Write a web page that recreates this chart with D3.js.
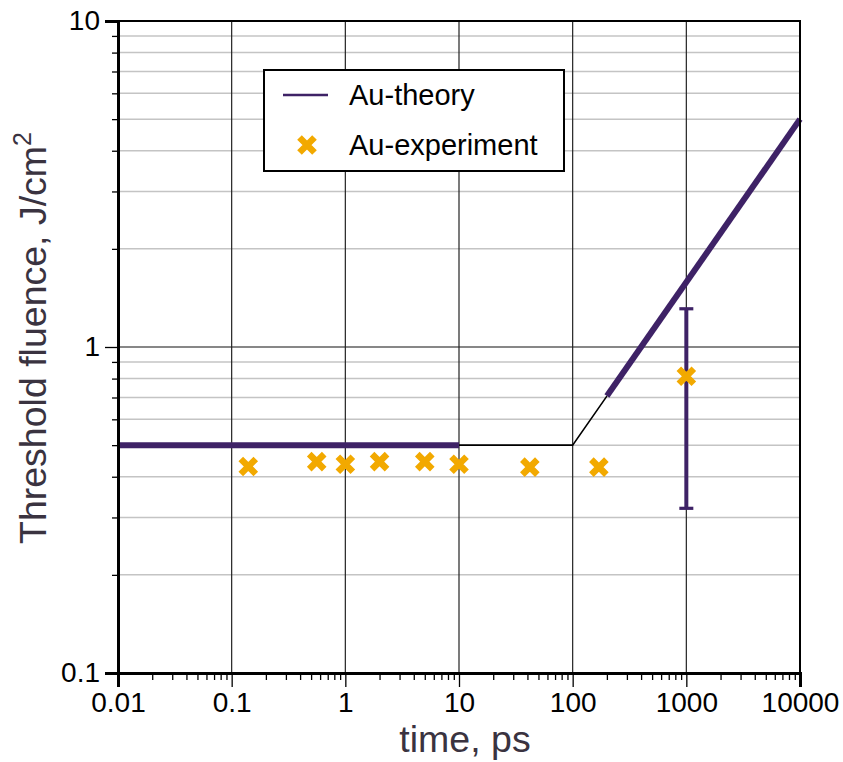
<!DOCTYPE html>
<html>
<head>
<meta charset="utf-8">
<script src="https://cdn.jsdelivr.net/npm/d3@7"></script>
<style>
  html, body { margin: 0; padding: 0; background: #fff; }
  svg { display: block; font-family: "Liberation Sans", Arial, sans-serif; }
</style>
</head>
<body>
<svg id="chart" width="843" height="762"></svg>
<script>
// Threshold fluence of gold vs. pulse duration
const theoryTime    = [0.01, 10, 100, 200, 10000];
const theoryFluence = [0.5, 0.5, 0.5, 0.707, 5];

const expTime    = [0.14, 0.56, 1, 2, 5, 10, 42, 170, 1000];
const expFluence = [0.43, 0.445, 0.437, 0.445, 0.445, 0.437, 0.428, 0.428, 0.813];

const errTime = [1000];
const errLow  = [0.32];
const errHigh = [1.31];

const xTickValues = [0.01, 0.1, 1, 10, 100, 1000, 10000];
const xTickLabels = ["0.01", "0.1", "1", "10", "100", "1000", "10000"];
const yTickValues = [0.1, 1, 10];
const yTickLabels = ["0.1", "1", "10"];

const seriesNames = ["Au-theory", "Au-experiment"];
const xTitle = "time, ps";
const yTitle = "Threshold fluence, J/cm";

const purple = "#3e2266";
const orange = "#f2a900";
const titleColor = "#3a3340";

const svg = d3.select("#chart");
const plotL = 118, plotR = 800, plotT = 21, plotB = 673;

const x = d3.scaleLog().domain([0.01, 10000]).range([plotL, plotR]);
const y = d3.scaleLog().domain([0.1, 10]).range([plotB, plotT]);

// minor tick positions (2..9 within each decade)
function minors(lo, hi) {
  const out = [];
  for (let d = lo; d < hi; d *= 10)
    for (let k = 2; k <= 9; k++) out.push(+(d * k).toPrecision(3));
  return out;
}
const xMinor = minors(0.01, 10000);
const yMinor = minors(0.1, 10);

// grid
const grid = svg.append("g");
grid.selectAll("line.hmin").data(yMinor).join("line")
  .attr("x1", plotL).attr("x2", plotR)
  .attr("y1", d => y(d)).attr("y2", d => y(d))
  .attr("stroke", "#c4c4c4").attr("stroke-width", 1.5);
grid.selectAll("line.hmaj").data([1]).join("line")
  .attr("x1", plotL).attr("x2", plotR)
  .attr("y1", d => y(d)).attr("y2", d => y(d))
  .attr("stroke", "#111").attr("stroke-width", 1.2);
grid.selectAll("line.vmaj").data(xTickValues.slice(1, -1)).join("line")
  .attr("x1", d => x(d)).attr("x2", d => x(d))
  .attr("y1", plotT).attr("y2", plotB)
  .attr("stroke", "#222").attr("stroke-width", 1.2);

// theory curve: bold pieces and a thin joining piece
const theory = theoryTime.map((t, i) => [t, theoryFluence[i]]);
const line = d3.line().x(d => x(d[0])).y(d => y(d[1]));
svg.append("path").datum(theory.slice(1, 4)).attr("d", line)
  .attr("fill", "none").attr("stroke", "#000").attr("stroke-width", 1.6);
[theory.slice(0, 2), theory.slice(3, 5)].forEach(seg => {
  svg.append("path").datum(seg).attr("d", line)
    .attr("fill", "none").attr("stroke", purple)
    .attr("stroke-width", 6).attr("stroke-linecap", "butt");
});

// error bar
const eb = svg.append("g").attr("stroke", purple).attr("stroke-width", 4);
errTime.forEach((t, i) => {
  eb.append("line").attr("x1", x(t)).attr("x2", x(t))
    .attr("y1", y(errLow[i])).attr("y2", y(errHigh[i]));
  [errLow[i], errHigh[i]].forEach(v => {
    eb.append("line").attr("x1", x(t) - 7).attr("x2", x(t) + 7)
      .attr("y1", y(v)).attr("y2", y(v)).attr("stroke-width", 3.2);
  });
});

// experiment markers
const xMark = "M-7.5,-7.5L7.5,7.5M-7.5,7.5L7.5,-7.5";
svg.append("g").selectAll("path").data(expTime.map((t, i) => [t, expFluence[i]])).join("path")
  .attr("transform", d => `translate(${x(d[0])},${y(d[1])})`)
  .attr("d", xMark).attr("stroke", orange).attr("stroke-width", 6.5)
  .attr("fill", "none");

// frame
svg.append("rect").attr("x", plotL).attr("y", plotT)
  .attr("width", plotR - plotL).attr("height", plotB - plotT)
  .attr("fill", "none").attr("stroke", "#000").attr("stroke-width", 2);

// axes
const xAxis = svg.append("g").attr("transform", `translate(0,${plotB})`)
  .call(d3.axisBottom(x).tickValues(xTickValues).tickSize(14).tickPadding(5)
    .tickFormat((d, i) => xTickLabels[i]));
const xAxisMinor = svg.append("g").attr("transform", `translate(0,${plotB})`)
  .call(d3.axisBottom(x).tickValues(xMinor).tickSize(7).tickFormat(""));
const yAxis = svg.append("g").attr("transform", `translate(${plotL},0)`)
  .call(d3.axisLeft(y).tickValues(yTickValues).tickSize(13).tickPadding(5)
    .tickFormat((d, i) => yTickLabels[i]));
const yAxisMinor = svg.append("g").attr("transform", `translate(${plotL},0)`)
  .call(d3.axisLeft(y).tickValues(yMinor).tickSize(6).tickFormat(""));

[xAxis, xAxisMinor, yAxis, yAxisMinor].forEach(g => {
  g.select(".domain").attr("stroke", "#000").attr("stroke-width", 3);
  g.selectAll(".tick line").attr("stroke", "#000").attr("stroke-width", 1.3);
  g.selectAll("text").attr("font-size", 28).attr("fill", "#000")
    .attr("font-family", "'Liberation Sans', Arial, sans-serif");
});

// axis titles
svg.append("text").attr("x", 465).attr("y", 752)
  .attr("text-anchor", "middle").attr("font-size", 37.5).attr("fill", titleColor)
  .text(xTitle);
const yt = svg.append("text").attr("transform", "translate(46,338) rotate(-90)")
  .attr("text-anchor", "middle").attr("font-size", 37.5).attr("fill", titleColor);
yt.append("tspan").text(yTitle);
yt.append("tspan").attr("font-size", 25).attr("dy", -15).text("2");

// legend
const lg = svg.append("g");
lg.append("rect").attr("x", 264).attr("y", 70).attr("width", 300).attr("height", 101)
  .attr("fill", "#fff").attr("stroke", "#000").attr("stroke-width", 2);
lg.append("line").attr("x1", 283).attr("x2", 328).attr("y1", 95).attr("y2", 95)
  .attr("stroke", purple).attr("stroke-width", 2.5);
lg.append("path").attr("transform", "translate(307,145)").attr("d", xMark)
  .attr("stroke", orange).attr("stroke-width", 6.5).attr("fill", "none");
lg.selectAll("text").data(seriesNames).join("text")
  .attr("x", 349).attr("y", (d, i) => 105 + i * 50)
  .attr("font-size", 29).attr("fill", "#000").text(d => d);
</script>
</body>
</html>
